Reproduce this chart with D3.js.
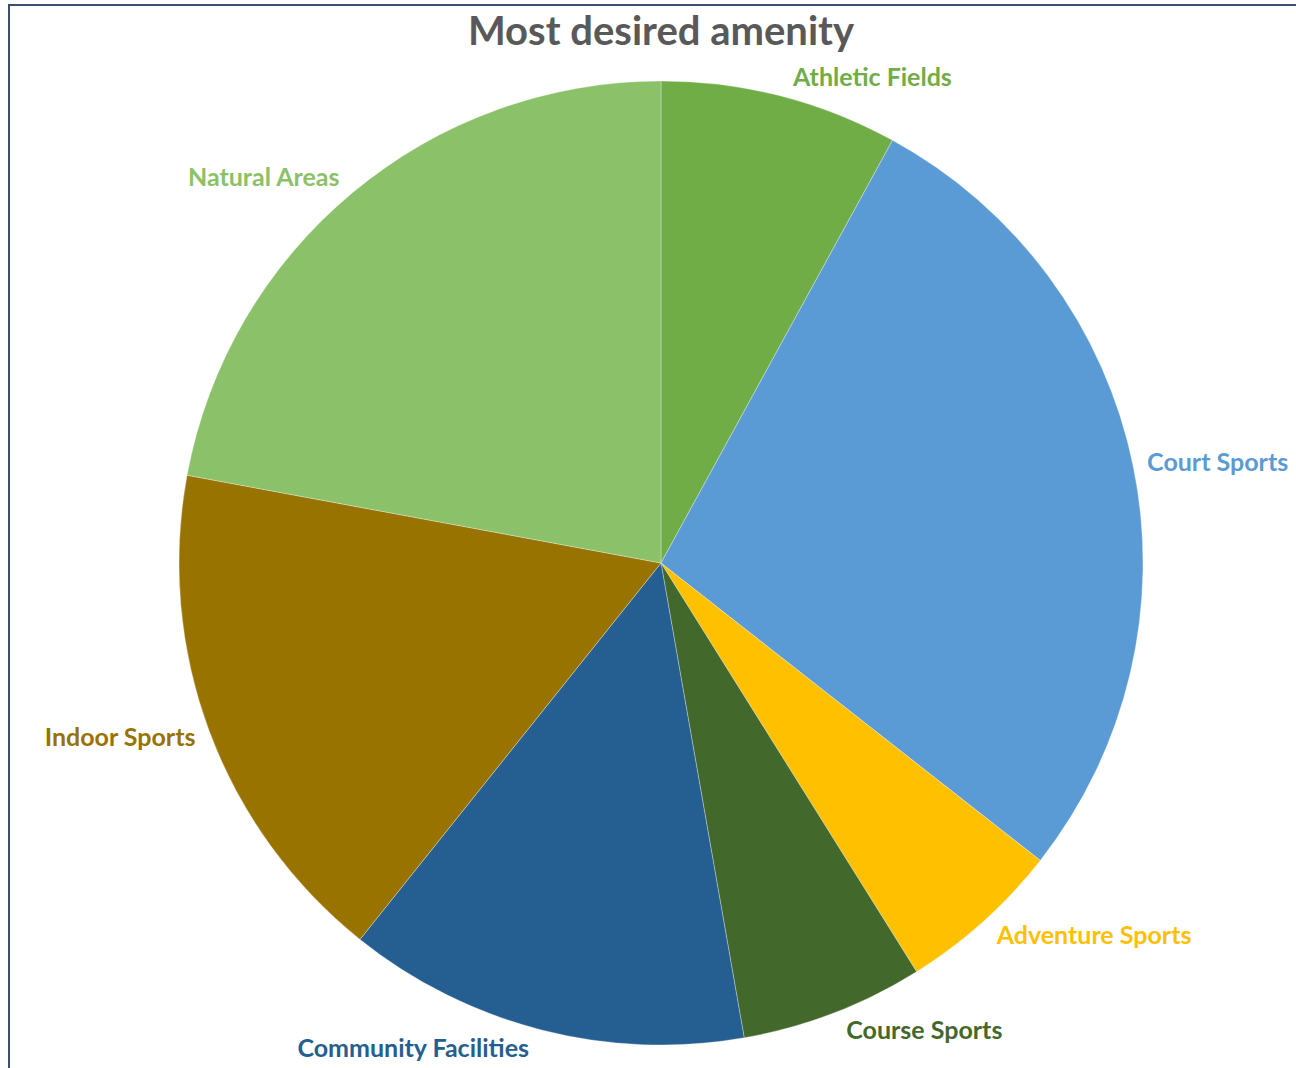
<!DOCTYPE html>
<html><head><meta charset="utf-8">
<script src="https://cdn.jsdelivr.net/npm/d3@7"></script>
<style>body{margin:0;background:#fff;overflow:hidden} svg{display:block}</style>
</head><body>
<svg id="chart" width="1296" height="1068"></svg>
<script>
const categories = ["Athletic Fields","Court Sports","Adventure Sports","Course Sports","Community Facilities","Indoor Sports","Natural Areas"];
const values = [13,45,9,10,22,28,36];
const colors = ["#70AD47","#5B9BD5","#FFC000","#43682B","#255E91","#997300","#8BC168"];
const title = "Most desired amenity";

const W = 1296, H = 1068, cx = 661, cy = 563, r = 482;
const svg = d3.select("#chart");
svg.append("rect").attr("x", 9).attr("y", 5).attr("width", W + 40).attr("height", H + 40)
  .attr("fill", "#fff").attr("stroke", "#3e4f6e").attr("stroke-width", 2);

svg.append("text").attr("x", cx).attr("y", 45).attr("text-anchor", "middle")
  .attr("font-family", "Lato, 'Open Sans', sans-serif").attr("font-weight", "bold")
  .attr("font-size", 40).attr("fill", "#595959").text(title);

const pie = d3.pie().sort(null).value(d => d)(values);
const arc = d3.arc().innerRadius(0).outerRadius(r);
const g = svg.append("g").attr("transform", `translate(${cx},${cy})`);
g.selectAll("path").data(pie).join("path")
  .attr("d", arc).attr("fill", (d, i) => colors[i])
  .attr("stroke", "#fff").attr("stroke-opacity", 0.3).attr("stroke-width", 1);

const R = r + 14, lh = 10;
g.selectAll("text.lbl").data(pie).join("text").attr("class", "lbl")
  .attr("font-family", "Lato, 'Open Sans', sans-serif").attr("font-weight", "bold")
  .attr("font-size", 25).attr("fill", (d, i) => colors[i])
  .each(function (d, i) {
    const a = (d.startAngle + d.endAngle) / 2, s = Math.sin(a), c = Math.cos(a);
    const sx = Math.sign(s) * 12 * (1 - Math.abs(s));
    d3.select(this).attr("x", R * s + sx).attr("y", -R * c - c * lh / 2).attr("dy", "0.33em")
      .attr("text-anchor", s >= 0 ? "start" : "end").text(categories[i]);
  });
</script>
</body></html>
